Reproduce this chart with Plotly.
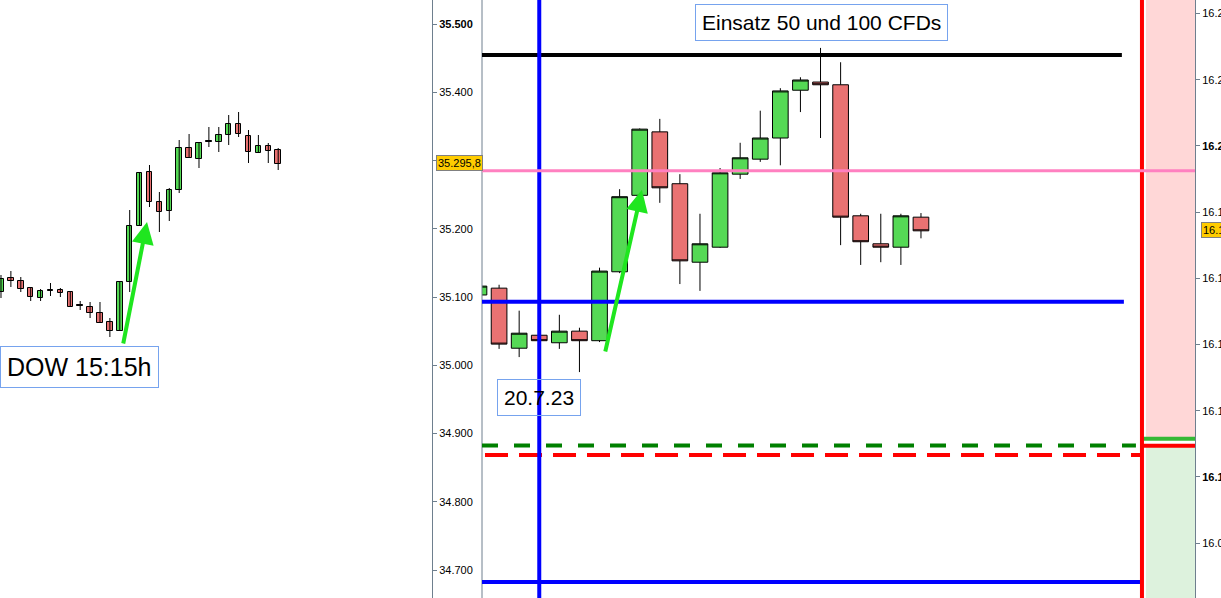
import plotly.graph_objects as go

W, H = 1221, 598

# main chart: DOW candles around 20.7.23
main_open = [35103, 35113, 35025, 35044, 35033, 35050, 35036, 35137, 35249, 35342, 35266, 35151,
             35173, 35280, 35302, 35333, 35403, 35415, 35411, 35219, 35178, 35173, 35217]
main_high = [35118, 35118, 35080, 35046, 35074, 35055, 35143, 35258, 35347, 35361, 35280, 35222,
             35289, 35326, 35373, 35406, 35422, 35465, 35444, 35222, 35222, 35222, 35223]
main_low = [35098, 35024, 35012, 35034, 35024, 34990, 35034, 35135, 35248, 35238, 35119, 35109,
            35172, 35273, 35298, 35293, 35371, 35333, 35176, 35147, 35151, 35147, 35186]
main_close = [35116, 35031, 35047, 35036, 35050, 35036, 35138, 35247, 35346, 35260, 35153, 35178,
              35282, 35304, 35333, 35402, 35418, 35411, 35217, 35181, 35173, 35219, 35197]

# small chart on the left (DOW 15:15h)
dow_open = [35108, 35122, 35119, 35112, 35102, 35109, 35110, 35108, 35094, 35093, 35087, 35078,
            35069, 35118, 35174, 35228, 35198, 35189, 35210, 35252, 35241, 35258, 35258, 35265,
            35276, 35264, 35247, 35254, 35250]
dow_high = [35125, 35129, 35123, 35112, 35111, 35117, 35112, 35109, 35099, 35098, 35098, 35082,
            35118, 35190, 35228, 35235, 35208, 35212, 35260, 35266, 35258, 35273, 35273, 35285,
            35288, 35270, 35265, 35257, 35252]
dow_low = [35102, 35113, 35108, 35099, 35099, 35104, 35103, 35093, 35090, 35082, 35077, 35063,
           35069, 35108, 35174, 35193, 35168, 35179, 35207, 35242, 35232, 35253, 35248, 35255,
           35263, 35237, 35247, 35237, 35230]
dow_close = [35121, 35119, 35111, 35103, 35109, 35109, 35107, 35093, 35094, 35087, 35077, 35069,
             35118, 35174, 35227, 35198, 35188, 35210, 35252, 35242, 35257, 35258, 35265, 35276,
             35266, 35248, 35254, 35249, 35236]

# price levels
level_black = 35454.6
level_pink = 35285
level_blue_top = 35093
level_green_dash = 34882.5
level_red_dash = 34868.5
level_blue_bottom = 34682.5
last_price = 35295.8
date_index = 3
cut_index = 33

# right hand scale
zone_green = 16.1115
zone_red = 16.1094
right_price = 16.1746

price_ticks = [34700, 34800, 34900, 35000, 35100, 35200, 35300, 35400, 35500]
price_labels = ["34.700", "34.800", "34.900", "35.000", "35.100", "35.200", "", "35.400",
                "<b>35.500</b>"]
right_ticks = [16.08, 16.10, 16.12, 16.14, 16.16, 16.18, 16.20, 16.22, 16.24]
right_labels = ["16.080", "<b>16.100</b>", "16.120", "16.140", "16.160", "16.180", "<b>16.200</b>",
                "16.220", "16.240"]

main_yrange = [34659.0, 35535.2]
main_xrange = [0.15, 35.64]
right_yrange = [16.0634, 16.2441]

GREEN = "#55d955"
RED = "#e97272"
AXIS = "#6e7f8e"
BOXLINE = "#76a3ee"


def px(v):
    return v / W


def py(v):
    return 1 - v / H


fig = go.Figure()

fig.add_trace(go.Candlestick(
    x=list(range(len(main_open))), open=main_open, high=main_high, low=main_low, close=main_close,
    increasing=dict(fillcolor=GREEN, line=dict(color="black", width=1)),
    decreasing=dict(fillcolor=RED, line=dict(color="black", width=1)),
    whiskerwidth=0, hoverinfo="skip", xaxis="x", yaxis="y",
))

# left chart: wicks then bodies
wx, wy = [], []
for i in range(len(dow_open)):
    wx += [i, i, None]
    wy += [dow_low[i], dow_high[i], None]
fig.add_trace(go.Scatter(x=wx, y=wy, mode="lines", line=dict(color="black", width=1),
                         hoverinfo="skip", xaxis="x2", yaxis="y2"))

body_base = [min(o, c) for o, c in zip(dow_open, dow_close)]
body_size = [max(abs(c - o), 1) for o, c in zip(dow_open, dow_close)]
body_color = [GREEN if c > o else (RED if c < o else "black") for o, c in zip(dow_open, dow_close)]
fig.add_trace(go.Bar(x=list(range(len(dow_open))), y=body_size, base=body_base, width=0.55,
                     marker=dict(color=body_color, line=dict(color="black", width=1)),
                     hoverinfo="skip", xaxis="x2", yaxis="y2"))

# right zone marker lines
fig.add_trace(go.Scatter(x=[cut_index, 40], y=[zone_green, zone_green], mode="lines",
                         line=dict(color="#35b835", width=4), hoverinfo="skip", xaxis="x", yaxis="y3"))
fig.add_trace(go.Scatter(x=[cut_index, 40], y=[zone_red, zone_red], mode="lines",
                         line=dict(color="#ff0000", width=4), hoverinfo="skip", xaxis="x", yaxis="y3"))

shapes = [
    dict(type="rect", xref="paper", yref="y3", x0=px(1146), x1=px(1195), y0=zone_green,
         y1=right_yrange[1], fillcolor="#ffd7d7", line=dict(width=0), layer="below"),
    dict(type="rect", xref="paper", yref="y3", x0=px(1146), x1=px(1195), y0=right_yrange[0],
         y1=zone_red, fillcolor="#ddf2dd", line=dict(width=0), layer="below"),
    dict(type="line", xref="paper", yref="paper", x0=px(482), x1=px(482), y0=0, y1=1,
         line=dict(color=AXIS, width=1)),
    dict(type="line", xref="x", yref="y", x0=main_xrange[0], x1=32.0, y0=level_black, y1=level_black,
         line=dict(color="black", width=4)),
    dict(type="line", xref="x", yref="y", x0=main_xrange[0], x1=32.1, y0=level_blue_top,
         y1=level_blue_top, line=dict(color="#0000ff", width=4)),
    dict(type="line", xref="x", yref="y", x0=main_xrange[0], x1=32.7, y0=level_green_dash,
         y1=level_green_dash, line=dict(color="#008000", width=4, dash="16px,16px")),
    dict(type="line", xref="x", yref="y", x0=0.3, x1=cut_index, y0=level_red_dash,
         y1=level_red_dash, line=dict(color="#ff0000", width=4, dash="23px,11px")),
    dict(type="line", xref="x", yref="y", x0=main_xrange[0], x1=cut_index, y0=level_blue_bottom,
         y1=level_blue_bottom, line=dict(color="#0000ff", width=4)),
    dict(type="line", xref="x", yref="paper", x0=date_index, x1=date_index, y0=0, y1=1,
         line=dict(color="#0000ff", width=4)),
    dict(type="line", xref="x", yref="paper", x0=cut_index, x1=cut_index, y0=0, y1=1,
         line=dict(color="#ff0000", width=4)),
    dict(type="line", xref="x", yref="y", x0=main_xrange[0], x1=main_xrange[1], y0=level_pink,
         y1=level_pink, line=dict(color="#ff80c0", width=3)),
]

box_font = dict(family="Liberation Sans, Arial, sans-serif", color="black")
annotations = [
    dict(xref="paper", yref="paper", x=px(821), y=py(23), xanchor="center", yanchor="middle",
         text="Einsatz 50 und 100 CFDs", showarrow=False, font=dict(size=21, **box_font),
         bordercolor=BOXLINE, borderwidth=1, borderpad=6),
    dict(xref="x", yref="paper", x=date_index, y=py(397), xanchor="center", yanchor="middle",
         text="20.7.23", showarrow=False, font=dict(size=21, **box_font),
         bordercolor=BOXLINE, borderwidth=1, borderpad=6),
    dict(xref="paper", yref="paper", x=px(79.5), y=py(367), xanchor="center", yanchor="middle",
         text="DOW 15:15h", showarrow=False, font=dict(size=25, **box_font),
         bordercolor=BOXLINE, borderwidth=1, borderpad=6),
    dict(xref="x", yref="y", x=8.11, y=35257, axref="x", ayref="y", ax=6.27, ay=35018, text="",
         showarrow=True, arrowhead=2, arrowsize=1.1, arrowwidth=4, arrowcolor="#1fe61f", standoff=0),
    dict(xref="x2", yref="y2", x=14.75, y=35178, axref="x2", ayref="y2", ax=12.32, ay=35055, text="",
         showarrow=True, arrowhead=2, arrowsize=1.1, arrowwidth=4, arrowcolor="#1fe61f", standoff=0),
    dict(xref="paper", yref="y", x=px(459), y=last_price, xanchor="center", yanchor="middle",
         text="35.295,8", showarrow=False, font=dict(size=11, **box_font), bgcolor="#ffcc00",
         bordercolor="#808080", borderwidth=1, borderpad=1),
    dict(xref="paper", yref="y3", x=px(1201), y=right_price, xanchor="left", yanchor="middle",
         text="16.175", showarrow=False, font=dict(size=11, **box_font), bgcolor="#ffcc00",
         bordercolor="#808080", borderwidth=1, borderpad=1),
]

fig.update_layout(
    width=W, height=H, autosize=False, margin=dict(l=0, r=0, t=0, b=0, pad=0, autoexpand=False),
    paper_bgcolor="white", plot_bgcolor="white", showlegend=False,
    boxgap=0.22, boxgroupgap=0, bargap=0, hovermode=False,
    font=dict(family="Liberation Sans, Arial, sans-serif", size=11, color="black"),
    xaxis=dict(domain=[px(482), px(1195)], range=main_xrange, visible=False, automargin=False,
               rangeslider=dict(visible=False), fixedrange=True),
    yaxis=dict(domain=[0, 1], range=main_yrange, anchor="free", position=px(432), side="right",
               showline=True, linecolor=AXIS, linewidth=1, ticks="outside", ticklen=4,
               tickcolor=AXIS, tickvals=price_ticks, ticktext=price_labels, showgrid=False,
               zeroline=False, fixedrange=True, automargin=False),
    xaxis2=dict(domain=[0, 0.3], range=[-0.1, 36.9], visible=False, anchor="y2", automargin=False,
                rangeslider=dict(visible=False), fixedrange=True),
    yaxis2=dict(domain=[0, 1], range=[34802, 35400], visible=False, anchor="x2", fixedrange=True,
                automargin=False),
    yaxis3=dict(overlaying="y", anchor="free", position=px(1195), side="right", range=right_yrange,
                showline=True, linecolor=AXIS, linewidth=1, ticks="outside", ticklen=4,
                tickcolor=AXIS, tickvals=right_ticks, ticktext=right_labels, showgrid=False,
                zeroline=False, fixedrange=True, automargin=False),
    shapes=shapes,
    annotations=annotations,
)

page_fix = "document.body.style.margin='0';document.body.style.overflow='hidden';"
fig.write_html("out.html", config={"responsive": False, "displayModeBar": False},
               post_script=page_fix)
